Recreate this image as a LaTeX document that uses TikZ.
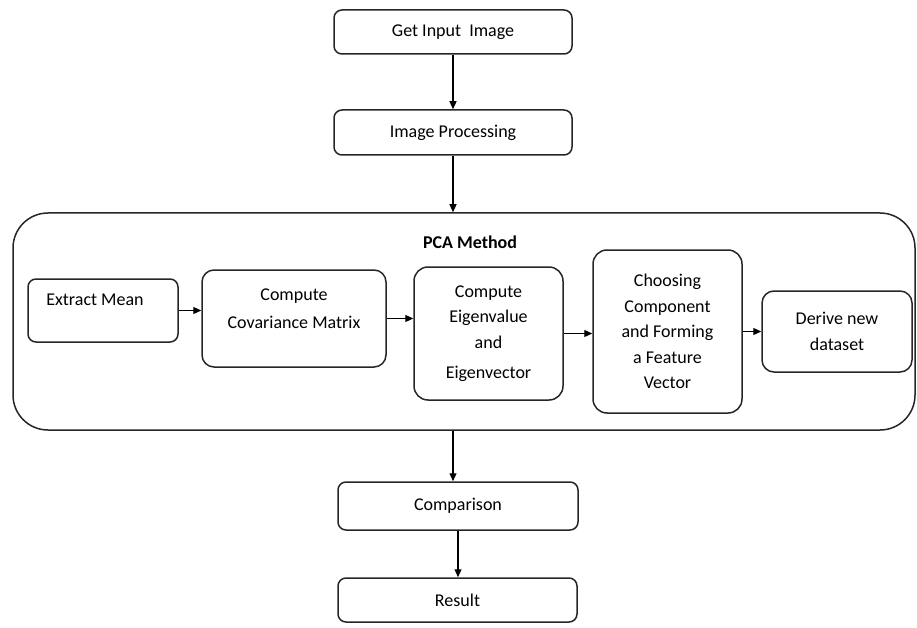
\documentclass[tikz,border=0pt]{standalone}
\usepackage{fontspec}
\setmainfont{Carlito}
\usepackage{tikz}
\usetikzlibrary{arrows.meta,positioning,calc}

\begin{document}
\begin{tikzpicture}[x=1pt,y=-1pt,
    box/.style={draw=black!85, line width=1.5pt, rounded corners=8pt, font=\fontsize{18}{25.5}\selectfont, align=center, inner sep=0pt},
    arr/.style={-{Triangle[length=8pt,width=7pt]}, line width=1.1pt}]
  \useasboundingbox (0,0) rectangle (917,628);
  % top of the flow
  \node[box, minimum width=238, minimum height=44] (gin) at (453,32) {Get Input\ \ Image};
  \node[box, minimum width=238, minimum height=45] (ip) at (453,132.5) {Image Processing};
  % PCA block
  \node[box, rounded corners=35pt, minimum width=902, minimum height=217] (pca) at (464,321.5) {};
  \node[font=\fontsize{18}{22}\selectfont\bfseries] (title) at (470,242) {PCA Method};
  \node[box, minimum width=150, minimum height=63,
    label={[xshift=-8pt,yshift=11pt,font=\fontsize{18}{22}\selectfont]center:Extract Mean}] (mean) at (103,310.5) {};
  \node[box, rounded corners=12pt, minimum width=184, minimum height=97,
    label={[yshift=10pt,font=\fontsize{18}{28}\selectfont,align=center]center:Compute\\Covariance Matrix}] (cov) at (294,318.5) {};
  \node[box, rounded corners=14pt, minimum width=149, minimum height=133] (eig) at (488.5,333.5)
    {Compute\\Eigenvalue\\and\\[5pt]Eigenvector};
  \node[box, rounded corners=14pt, minimum width=149, minimum height=163] (cho) at (667.5,331.5)
    {Choosing\\Component\\and Forming\\a Feature\\Vector};
  \node[box, rounded corners=12pt, minimum width=150, minimum height=81] (der) at (837,331.5)
    {Derive new\\dataset};
  % bottom of the flow
  \node[box, minimum width=240, minimum height=48] (cmp) at (458,506) {Comparison};
  \node[box, minimum width=239, minimum height=44] (res) at (457.5,600) {Result};

  \draw[arr] (gin.south) -- (ip.north);
  \draw[arr] (ip.south) -- (ip.south |- pca.north);
  \draw[arr] (mean.east) -- (mean.east -| cov.west);
  \draw[arr] (cov.east) -- (cov.east -| eig.west);
  \draw[arr] (eig.east) -- (eig.east -| cho.west);
  \draw[arr] (cho.east) -- (cho.east -| der.west);
  \draw[arr] (ip.south |- pca.south) -- (ip.south |- cmp.north);
  \draw[arr] (cmp.south) -- (cmp.south |- res.north);
\end{tikzpicture}
\end{document}
